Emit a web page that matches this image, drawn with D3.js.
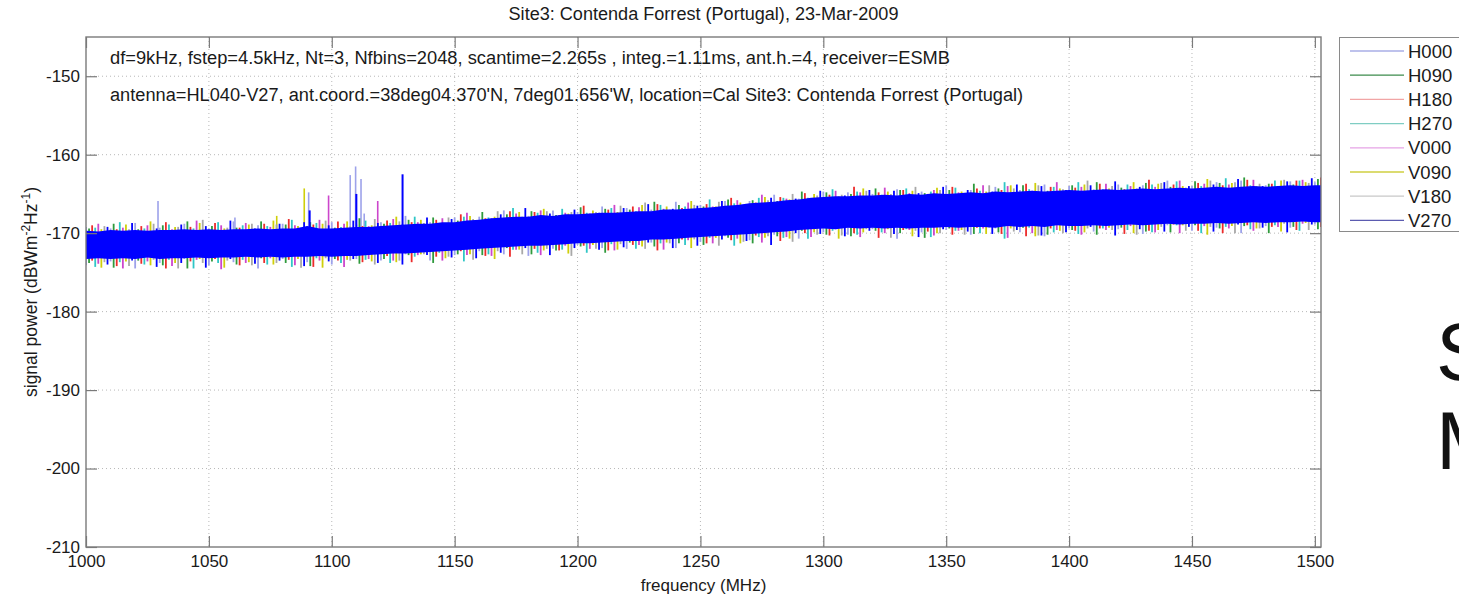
<!DOCTYPE html>
<html><head><meta charset="utf-8">
<script src="https://cdn.jsdelivr.net/npm/d3@7"></script>
<style>
body{margin:0;background:#fff;}
svg{display:block;font-family:"Liberation Sans",Arial,sans-serif;}
</style></head><body>
<svg id="c" width="1459" height="599"></svg>
<script>
// ---------------- DATA ----------------
const seriesNames = ["H000","H090","H180","H270","V000","V090","V180","V270"];
const xTicks = [1000,1050,1100,1150,1200,1250,1300,1350,1400,1450,1500];
const yTicks = [-210,-200,-190,-180,-170,-160,-150];

// V270 solid core of the noise band, every 5 MHz from 1000 MHz
const coreTop = [-169.7,-169.8,-169.6,-169.7,-169.6,-169.7,-169.6,-169.6,-169.5,-169.6,-169.5,-169.6,-169.5,-169.5,-169.4,-169.5,-169.4,-169.4,-169.1,-169.4,-169.4,-169.3,-169.2,-169.2,-169.1,-169.0,-168.9,-168.8,-168.8,-168.6,-168.6,-168.4,-168.3,-168.1,-168.0,-167.9,-167.9,-167.7,-167.8,-167.6,-167.6,-167.5,-167.4,-167.4,-167.3,-167.2,-167.2,-167.0,-167.0,-166.9,-166.8,-166.7,-166.5,-166.4,-166.2,-166.1,-166.0,-165.8,-165.7,-165.5,-165.4,-165.3,-165.3,-165.2,-165.2,-165.1,-165.2,-165.0,-165.1,-164.9,-165.0,-164.9,-164.8,-164.9,-164.7,-164.8,-164.7,-164.6,-164.7,-164.6,-164.5,-164.6,-164.5,-164.4,-164.5,-164.4,-164.3,-164.4,-164.3,-164.2,-164.3,-164.2,-164.1,-164.2,-164.1,-164.0,-164.1,-164.0,-163.9,-164.0,-163.9,-163.9];
const coreBottom = [-173.3,-173.2,-173.3,-173.2,-173.3,-173.1,-173.3,-173.2,-173.2,-173.1,-173.2,-173.1,-173.1,-173.0,-173.1,-173.0,-173.1,-173.0,-173.0,-172.9,-173.0,-172.9,-172.9,-172.8,-172.7,-172.6,-172.6,-172.5,-172.4,-172.3,-172.2,-172.1,-172.0,-171.9,-171.8,-171.7,-171.6,-171.6,-171.5,-171.4,-171.3,-171.3,-171.2,-171.1,-171.0,-171.0,-170.8,-170.8,-170.7,-170.6,-170.5,-170.4,-170.3,-170.2,-170.1,-170.0,-169.9,-169.8,-169.6,-169.5,-169.4,-169.5,-169.3,-169.4,-169.3,-169.4,-169.3,-169.4,-169.3,-169.3,-169.2,-169.3,-169.2,-169.2,-169.3,-169.1,-169.2,-169.1,-169.2,-169.0,-169.1,-169.1,-169.0,-169.1,-169.0,-168.9,-169.0,-168.9,-168.8,-168.9,-168.8,-168.8,-168.7,-168.8,-168.7,-168.6,-168.7,-168.6,-168.6,-168.5,-168.6,-168.6];

// noise peaks (upper / lower) of each trace, every 10 MHz (staggered per trace)
const hiH000 = [-169.2,-169.4,-168.7,-169.3,-168.8,-169.4,-168.5,-169.0,-168.8,-169.1,-168.6,-168.9,-168.6,-167.8,-168.6,-168.0,-167.9,-167.1,-167.8,-167.1,-167.3,-166.6,-166.8,-167.0,-166.0,-166.4,-165.9,-165.9,-165.1,-165.6,-164.7,-164.8,-165.0,-164.4,-164.7,-163.9,-164.5,-164.1,-164.5,-163.8,-164.0,-164.4,-163.8,-163.9,-163.3,-164.0,-163.5,-163.3,-163.9,-163.4,-163.5];
const loH000 = [-174.1,-173.6,-174.5,-173.8,-173.3,-174.1,-173.7,-174.5,-173.3,-173.7,-174.0,-173.3,-173.5,-172.7,-173.5,-172.8,-172.3,-172.7,-172.9,-172.0,-171.5,-171.9,-172.0,-171.2,-171.9,-171.1,-170.4,-170.9,-170.2,-170.7,-169.9,-170.2,-169.5,-170.7,-169.9,-169.6,-170.2,-169.4,-169.9,-170.4,-169.4,-169.8,-169.5,-170.1,-169.0,-169.7,-169.3,-170.0,-169.1,-169.3,-168.9];
const hiH090 = [-169.4,-168.8,-169.5,-169.0,-168.5,-169.1,-169.3,-168.5,-168.9,-168.6,-169.3,-168.1,-168.8,-168.3,-168.0,-168.4,-167.3,-167.6,-167.2,-167.7,-166.7,-166.9,-167.0,-166.0,-166.4,-166.6,-165.7,-165.8,-165.9,-164.7,-164.8,-165.0,-164.3,-164.5,-164.9,-164.5,-163.7,-164.3,-163.9,-164.6,-163.9,-163.5,-164.2,-163.6,-164.1,-163.4,-163.6,-162.9,-163.7,-163.8,-163.1];
const loH090 = [-173.8,-174.4,-173.5,-174.1,-174.5,-173.6,-174.0,-173.2,-173.8,-174.2,-173.3,-173.9,-173.3,-172.8,-173.8,-172.7,-172.8,-171.9,-172.7,-172.2,-171.7,-172.5,-171.2,-171.7,-171.3,-171.5,-170.6,-171.3,-170.4,-169.7,-170.2,-170.4,-169.7,-170.0,-170.6,-169.4,-170.1,-169.9,-169.3,-170.2,-169.6,-170.2,-169.3,-169.8,-169.9,-169.0,-169.4,-169.1,-170.0,-169.2,-169.5];
const hiH180 = [-169.0,-169.5,-169.1,-168.6,-169.2,-168.7,-169.3,-168.8,-168.2,-168.9,-168.5,-169.1,-168.4,-168.6,-168.3,-167.6,-168.1,-167.2,-167.3,-167.7,-166.5,-167.0,-166.6,-166.3,-166.8,-166.3,-165.5,-166.1,-165.4,-164.9,-165.1,-164.1,-164.8,-164.5,-165.0,-164.1,-164.3,-164.5,-163.7,-164.1,-164.2,-163.7,-164.4,-163.2,-163.8,-163.6,-163.9,-163.2,-163.7,-163.3,-162.9];
const loH180 = [-173.5,-174.2,-173.9,-174.5,-173.6,-173.3,-174.1,-173.8,-173.4,-174.3,-173.5,-173.7,-172.9,-173.7,-173.0,-172.3,-172.9,-173.0,-172.0,-172.2,-171.6,-172.2,-171.5,-172.2,-170.8,-171.3,-170.9,-170.3,-171.0,-170.0,-170.3,-170.0,-170.6,-169.6,-169.8,-170.2,-169.3,-170.1,-170.4,-169.4,-169.7,-169.4,-170.1,-169.7,-168.9,-169.7,-170.0,-169.0,-169.2,-169.6,-169.2];
const hiH270 = [-169.3,-168.6,-169.4,-168.9,-169.4,-168.6,-169.0,-169.1,-168.3,-168.7,-169.2,-168.4,-168.7,-167.9,-168.7,-167.9,-168.0,-166.8,-167.4,-166.9,-167.4,-166.8,-167.2,-166.4,-166.6,-165.7,-166.2,-165.5,-165.5,-165.5,-164.4,-164.7,-165.1,-164.3,-164.7,-164.2,-164.6,-163.5,-164.4,-164.1,-163.5,-164.4,-163.8,-163.8,-163.4,-164.0,-163.0,-163.9,-163.3,-163.3,-163.5];
const loH270 = [-174.3,-173.7,-174.0,-173.4,-174.5,-173.8,-173.4,-174.0,-174.3,-173.2,-173.8,-173.4,-173.8,-173.0,-172.5,-173.6,-172.7,-172.1,-172.5,-172.1,-172.5,-171.4,-172.0,-171.3,-171.5,-170.6,-171.6,-170.5,-170.6,-170.7,-169.7,-170.2,-169.9,-169.5,-170.5,-169.7,-170.0,-170.7,-169.3,-169.9,-170.1,-169.4,-169.6,-169.9,-169.0,-170.0,-169.2,-169.5,-169.0,-169.7,-169.3];
const hiV000 = [-168.8,-169.3,-169.0,-169.5,-168.4,-169.0,-168.7,-169.2,-169.0,-168.3,-168.8,-169.1,-168.2,-168.6,-168.1,-167.4,-168.1,-167.5,-167.1,-167.4,-167.5,-166.4,-166.7,-166.9,-166.1,-166.6,-165.8,-165.1,-165.6,-165.6,-164.6,-164.8,-164.2,-164.9,-164.5,-164.8,-163.9,-164.0,-164.6,-163.5,-164.1,-163.7,-164.0,-164.1,-163.3,-163.7,-163.8,-163.2,-164.0,-163.2,-163.4];
const loV000 = [-173.9,-174.5,-173.6,-174.2,-173.4,-174.6,-173.8,-173.2,-174.1,-173.5,-174.3,-173.3,-173.5,-172.8,-173.5,-172.8,-172.9,-172.1,-172.8,-171.6,-172.0,-172.2,-171.5,-172.1,-170.9,-171.3,-170.7,-171.2,-170.5,-170.5,-169.5,-170.5,-170.0,-169.6,-170.3,-169.7,-169.4,-170.6,-170.0,-169.6,-170.2,-169.6,-169.1,-169.9,-170.0,-169.1,-169.4,-169.7,-169.2,-168.8,-169.4];
const hiV090 = [-169.5,-168.9,-168.5,-169.2,-168.7,-169.4,-168.9,-168.4,-169.1,-168.8,-168.5,-169.0,-167.9,-168.3,-168.7,-167.8,-167.9,-167.3,-166.9,-167.5,-167.1,-167.3,-166.4,-166.6,-165.9,-166.6,-166.1,-165.4,-165.7,-165.0,-165.3,-164.3,-164.7,-164.6,-164.2,-164.7,-164.7,-163.9,-163.6,-164.3,-163.8,-164.3,-163.5,-163.7,-164.0,-163.1,-163.6,-164.0,-163.3,-163.5,-163.0];
const loV090 = [-174.4,-173.6,-174.1,-173.8,-173.3,-174.4,-173.7,-174.0,-173.3,-174.4,-173.4,-173.6,-173.7,-172.7,-173.2,-172.7,-173.3,-172.1,-172.2,-172.6,-171.5,-172.1,-171.7,-171.2,-171.9,-170.6,-171.3,-170.6,-170.7,-169.9,-170.7,-169.9,-169.5,-170.4,-170.0,-169.6,-170.1,-169.4,-170.4,-169.7,-169.9,-169.3,-170.0,-169.6,-169.0,-170.2,-169.1,-169.4,-169.8,-168.7,-169.5];
const hiV180 = [-169.1,-169.5,-168.8,-169.2,-168.3,-169.3,-168.8,-168.9,-169.3,-168.4,-169.1,-168.2,-168.5,-168.7,-168.0,-168.2,-167.2,-167.9,-167.2,-167.3,-167.3,-166.5,-166.1,-167.0,-166.4,-166.0,-166.4,-165.8,-165.0,-165.2,-165.1,-164.6,-165.0,-164.1,-164.5,-164.9,-163.9,-164.3,-163.9,-164.4,-163.3,-164.0,-164.3,-163.6,-164.2,-163.3,-163.5,-163.7,-163.2,-163.6,-163.2];
const loV180 = [-173.7,-174.2,-173.4,-174.5,-173.8,-173.5,-174.1,-173.8,-174.4,-173.2,-173.5,-174.0,-173.5,-172.7,-173.0,-173.4,-172.3,-172.7,-172.0,-172.9,-172.0,-171.4,-172.0,-171.3,-170.8,-171.6,-171.1,-170.4,-171.1,-170.2,-170.3,-169.5,-170.6,-169.7,-170.0,-170.2,-169.3,-169.8,-170.3,-170.0,-169.4,-169.6,-170.2,-169.2,-169.7,-169.2,-170.0,-169.4,-168.8,-169.6,-169.1];
const hiV270 = [-169.2,-168.7,-169.4,-168.9,-169.1,-168.4,-169.4,-168.8,-168.6,-169.0,-168.4,-168.7,-168.9,-168.0,-168.2,-168.5,-167.6,-166.8,-167.5,-167.0,-167.4,-166.8,-166.3,-166.9,-166.5,-165.9,-166.4,-165.5,-165.6,-164.6,-165.2,-164.5,-164.6,-164.9,-164.1,-164.5,-164.7,-163.8,-164.0,-164.5,-163.9,-163.4,-164.1,-163.5,-164.0,-163.8,-163.1,-164.0,-163.4,-163.0,-163.5];
const loV270 = [-174.0,-173.5,-174.3,-173.8,-174.4,-173.3,-173.9,-173.5,-174.2,-173.6,-173.3,-173.8,-174.0,-172.8,-173.1,-173.2,-172.5,-171.9,-172.8,-171.9,-172.1,-171.8,-171.2,-171.9,-171.6,-170.8,-171.0,-171.5,-170.0,-170.1,-170.4,-169.7,-170.1,-170.5,-169.5,-169.8,-170.1,-169.6,-170.3,-169.9,-169.2,-170.3,-169.5,-169.8,-169.2,-169.8,-168.9,-169.3,-169.9,-168.9,-169.5];

// narrow-band interferers (series index, frequency MHz, peak level)
const toneSeries = [0,0,0,0,0,0,0,5,5,4,4,7,7,7];
const toneFreqs  = [1029.3,1060.6,1090.6,1107.5,1109.7,1111.9,1113.2,1088.8,1077.6,1098.7,1118.7,1091.0,1110.0,1128.8];
const tonePeaks  = [-165.9,-168.0,-164.8,-162.6,-161.5,-163.1,-167.5,-164.3,-167.8,-165.2,-165.9,-167.1,-165.0,-162.5];

const titleText = "Site3: Contenda Forrest (Portugal), 23-Mar-2009";
const infoLines = ["df=9kHz, fstep=4.5kHz, Nt=3, Nfbins=2048, scantime=2.265s , integ.=1.11ms, ant.h.=4, receiver=ESMB",
                   "antenna=HL040-V27, ant.coord.=38deg04.370'N, 7deg01.656'W, location=Cal Site3: Contenda Forrest (Portugal)"];

// ---------------- STYLE ----------------
const plotColors   = ["#9da2ea","#2f9a3c","#ec2b2b","#2fc6c6","#cc46cc","#cfcf0a","#a8a8a8","#0000ff"];
const legendColors = ["#a9aee6","#3d8b4d","#f1a5a5","#7fcdc3","#e6a3e6","#cfcf40","#c8c8c8","#5b5bb0"];

// ---------------- DRAW ----------------
const spikeHi = [hiH000,hiH090,hiH180,hiH270,hiV000,hiV090,hiV180,hiV270];
const spikeLo = [loH000,loH090,loH180,loH270,loV000,loV090,loV180,loV270];
const coreFreqs = d3.range(coreTop.length).map(i => 1000 + 5*i);

const M = {left:86, right:1321, top:37, bottom:547};
const x = d3.scaleLinear().domain([1000,1502.5]).range([M.left, M.right]);
const y = d3.scaleLinear().domain([-210,-145]).range([M.bottom, M.top]);
const svg = d3.select("#c");

svg.append("defs").append("clipPath").attr("id","clip")
  .append("rect").attr("x",M.left).attr("y",M.top).attr("width",M.right-M.left).attr("height",M.bottom-M.top);

// grid
const grid = svg.append("g").attr("stroke","#b8b8b8").attr("stroke-dasharray","1,3").attr("stroke-width",1);
grid.selectAll(".gx").data(xTicks.slice(1)).join("line")
  .attr("x1",d=>x(d)).attr("x2",d=>x(d)).attr("y1",M.top).attr("y2",M.bottom);
grid.selectAll(".gy").data(yTicks.slice(1)).join("line")
  .attr("y1",d=>y(d)).attr("y2",d=>y(d)).attr("x1",M.left).attr("x2",M.right);

const plot = svg.append("g").attr("clip-path","url(#clip)");

function drawSeries(s){
  const hi = spikeHi[s], lo = spikeLo[s];
  const gS = plot.append("g").attr("stroke",plotColors[s]).attr("stroke-width",1.8);
  gS.selectAll("line").data(hi.map((v,k)=>({f:1000+10*k+1.25*s, hi:v, lo:lo[k]})))
    .join("line")
    .attr("x1",d=>x(d.f)).attr("x2",d=>x(d.f))
    .attr("y1",d=>y(d.hi)).attr("y2",d=>y(d.lo));
}
function drawTones(s){
  const idx = toneSeries.map((t,i)=>t===s?i:-1).filter(i=>i>=0);
  plot.append("g").attr("stroke",plotColors[s]).attr("stroke-width", s===7?2:1.6)
    .selectAll("line").data(idx).join("line")
    .attr("x1",i=>x(toneFreqs[i])).attr("x2",i=>x(toneFreqs[i]))
    .attr("y1",i=>y(tonePeaks[i]))
    .attr("y2",i=>{const k=Math.round((toneFreqs[i]-1000)/5); return y((coreTop[k]+coreBottom[k])/2);});
}
for(let s=0;s<7;s++){ drawSeries(s); drawTones(s); }
// V270 drawn last (on top)
plot.append("path")
  .datum(coreFreqs.map((f,i)=>({f, t:coreTop[i], b:coreBottom[i]})))
  .attr("fill",plotColors[7])
  .attr("d", d3.area().x(d=>x(d.f)).y0(d=>y(d.b)).y1(d=>y(d.t)));
drawSeries(7); drawTones(7);

// axes
const axCol = "#7a7a7a";
function styleAxis(g){
  g.select(".domain").remove();
  g.selectAll(".tick line").attr("stroke",axCol).attr("stroke-width",1.2);
  g.selectAll(".tick text").attr("fill","#1a1a1a").style("font-size","17px").style("font-family","'Liberation Sans',Arial,sans-serif");
}
svg.append("g").attr("transform",`translate(0,${M.bottom})`)
  .call(d3.axisBottom(x).tickValues(xTicks).tickSize(-11).tickPadding(8).tickFormat(d3.format("d"))).call(styleAxis);
svg.append("g").attr("transform",`translate(0,${M.top})`)
  .call(d3.axisTop(x).tickValues(xTicks).tickSize(-11).tickFormat("")).call(styleAxis);
svg.append("g").attr("transform",`translate(${M.left},0)`)
  .call(d3.axisLeft(y).tickValues(yTicks).tickSize(-11).tickPadding(6).tickFormat(d=>d3.format("d")(d).replace("−","-"))).call(styleAxis);
svg.append("g").attr("transform",`translate(${M.right},0)`)
  .call(d3.axisRight(y).tickValues(yTicks).tickSize(-11).tickFormat("")).call(styleAxis);
svg.append("rect").attr("x",M.left).attr("y",M.top).attr("width",M.right-M.left).attr("height",M.bottom-M.top)
  .attr("fill","none").attr("stroke",axCol).attr("stroke-width",1.4);

// text helpers
function fit(sel, target){
  const n = sel.node(); const w = n.getComputedTextLength();
  const fs = parseFloat(sel.style("font-size"));
  sel.style("font-size", (fs*target/w).toFixed(2)+"px");
}
const title = svg.append("text").attr("x",(M.left+M.right)/2).attr("y",20).attr("text-anchor","middle")
  .style("font-size","16px").attr("fill","#1a1a1a").text(titleText);
fit(title, 390);
const l1 = svg.append("text").attr("x",110).attr("y",64).style("font-size","16px").attr("fill","#1a1a1a").text(infoLines[0]);
fit(l1, 841);
const l2 = svg.append("text").attr("x",110).attr("y",101).style("font-size","16px").attr("fill","#1a1a1a").text(infoLines[1]);
fit(l2, 914);

svg.append("text").attr("x",(M.left+M.right)/2).attr("y",591).attr("text-anchor","middle")
  .style("font-size","17px").attr("fill","#1a1a1a").text("frequency (MHz)");
const yl = svg.append("text").attr("transform","translate(37,292) rotate(-90)").attr("text-anchor","middle")
  .style("font-size","17.5px").attr("fill","#1a1a1a");
yl.append("tspan").text("signal power (dBWm");
yl.append("tspan").attr("dy",-7).style("font-size","12px").text("-2");
yl.append("tspan").attr("dy",7).text("Hz");
yl.append("tspan").attr("dy",-7).style("font-size","12px").text("-1");
yl.append("tspan").attr("dy",7).text(")");

// legend
const lg = svg.append("g");
lg.append("rect").attr("x",1339.5).attr("y",37.5).attr("width",130).attr("height",194)
  .attr("fill","#fff").attr("stroke","#8a8a8a").attr("stroke-width",1);
const items = lg.selectAll(".it").data(seriesNames).join("g").attr("transform",(d,i)=>`translate(0,${51+i*24.2})`);
items.append("line").attr("x1",1350).attr("x2",1404).attr("y1",0).attr("y2",0)
  .attr("stroke",(d,i)=>legendColors[i]).attr("stroke-width",1.3);
items.append("text").attr("x",1408).attr("y",6.5).style("font-size","18.5px").attr("fill","#1a1a1a").text(d=>d);

// slide fragments at the right edge (cut off by the page edge, as in the reference)
svg.append("text").attr("x",1436).attr("y",380).style("font-size","82px").attr("fill","#111").text("S");
svg.append("text").attr("x",1436).attr("y",469).style("font-size","82px").attr("fill","#111").text("M");
</script>
</body></html>
